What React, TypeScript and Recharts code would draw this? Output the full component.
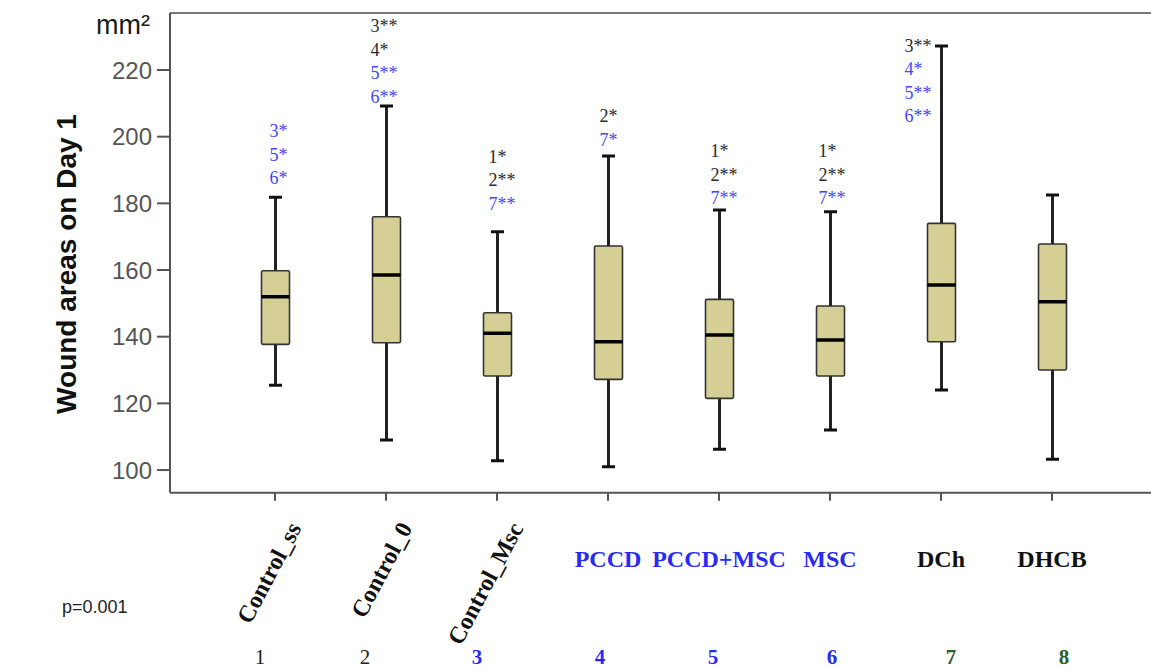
import { ComposedChart, Bar, XAxis, YAxis, ReferenceLine } from 'recharts';

// groups and box-plot summary values (mm²)
const groups = ['Control_ss', 'Control_0', 'Control_Msc', 'PCCD', 'PCCD+MSC', 'MSC', 'DCh', 'DHCB'];
const groupNo = ['1', '2', '3', '4', '5', '6', '7', '8'];
const mins = [125.4, 109.0, 102.8, 101.0, 106.2, 112.0, 124.0, 103.2];
const q1s = [137.7, 138.2, 128.2, 127.2, 121.5, 128.2, 138.5, 130.0];
const medians = [152.0, 158.5, 141.0, 138.5, 140.5, 139.0, 155.5, 150.5];
const q3s = [159.8, 176.0, 147.2, 167.2, 151.2, 149.2, 174.0, 167.8];
const maxs = [181.8, 209.2, 171.5, 194.2, 178.0, 177.5, 227.2, 182.5];

// significance notes above whiskers
const notes = [
  ['3*', '5*', '6*'],
  ['3**', '4*', '5**', '6**'],
  ['1*', '2**', '7**'],
  ['2*', '7*'],
  ['1*', '2**', '7**'],
  ['1*', '2**', '7**'],
  ['3**', '4*', '5**', '6**'],
  [],
];
const noteBlue = [
  [1, 1, 1],
  [0, 0, 1, 1],
  [0, 0, 1],
  [0, 1],
  [0, 0, 1],
  [0, 0, 1],
  [0, 1, 1, 1],
  [],
];
const noteTop = [201.6, 233.2, 194.0, 206.2, 195.7, 195.7, 227.3, 0];

const yTicks = [100, 120, 140, 160, 180, 200, 220];
const Y_DOMAIN: [number, number] = [93.2, 237.1];

// styling
const SERIF = "'Times New Roman', 'Liberation Serif', serif";
const SANS = "Arial, 'Liberation Sans', sans-serif";
const BLUE = '#2b2bf0';
const NOTE_BLUE = '#4545f2';
const GREEN = '#2f5e22';
const NOTE_DX = [-6, -16, -9, -9, -9, -12, -37, 0];
const NUM_DX = [-15, -21, -20, -8, -6, 2, 10, 12];
const NAME_COLOR = ['#111', '#111', '#111', BLUE, BLUE, BLUE, '#111', '#111'];
const NUM_COLOR = ['#222', '#222', BLUE, BLUE, BLUE, BLUE, GREEN, GREEN];

const data = groups.map((name, i) => ({
  name,
  no: groupNo[i],
  range: [mins[i], maxs[i]],
  min: mins[i],
  q1: q1s[i],
  median: medians[i],
  q3: q3s[i],
  max: maxs[i],
  notes: notes[i],
  blue: noteBlue[i],
  noteTop: noteTop[i],
  idx: i,
}));

const BoxShape = (props: any) => {
  const { x, y, width, height, payload } = props;
  const top = Math.min(y, y + height);
  const span = Math.abs(height);
  const toY = (v: number) => top + (span * (payload.max - v)) / (payload.max - payload.min);
  const cx = x + width / 2;
  const half = 14;
  const cap = 6.5;
  const i = payload.idx;
  return (
    <g>
      <line x1={cx} x2={cx} y1={toY(payload.max)} y2={toY(payload.min)} stroke="#222" strokeWidth={3} />
      <line x1={cx - cap} x2={cx + cap} y1={toY(payload.max)} y2={toY(payload.max)} stroke="#111" strokeWidth={3} />
      <line x1={cx - cap} x2={cx + cap} y1={toY(payload.min)} y2={toY(payload.min)} stroke="#111" strokeWidth={3} />
      <rect
        x={cx - half}
        y={toY(payload.q3)}
        width={half * 2}
        height={toY(payload.q1) - toY(payload.q3)}
        fill="#d5cf95"
        stroke="#333"
        strokeWidth={1.6}
        rx={1.5}
      />
      <line x1={cx - half} x2={cx + half} y1={toY(payload.median)} y2={toY(payload.median)} stroke="#000" strokeWidth={3.5} />
      {payload.notes.map((t: string, k: number) => (
        <text
          key={k}
          x={cx + NOTE_DX[i]}
          y={toY(payload.noteTop) + k * 23.5}
          dominantBaseline="central"
          fontFamily={SERIF}
          fontSize={18}
          fill={payload.blue[k] ? NOTE_BLUE : '#2a2a2a'}
        >
          {t}
        </text>
      ))}
    </g>
  );
};

const CatTick = (props: any) => {
  const { x, payload } = props;
  const i = groups.indexOf(payload.value);
  return (
    <g>
      {i < 3 ? (
        <text
          x={x + 27}
          y={528}
          textAnchor="end"
          transform={`rotate(-62, ${x + 27}, 528)`}
          fontFamily={SERIF}
          fontWeight="bold"
          fontSize={24}
          fill={NAME_COLOR[i]}
        >
          {payload.value}
        </text>
      ) : (
        <text x={x} y={567} textAnchor="middle" fontFamily={SERIF} fontWeight="bold" fontSize={24} fill={NAME_COLOR[i]}>
          {payload.value}
        </text>
      )}
      <text
        x={x + NUM_DX[i]}
        y={657}
        textAnchor="middle"
        dominantBaseline="central"
        fontFamily={SERIF}
        fontWeight={i < 2 ? 'normal' : 'bold'}
        fontSize={21}
        fill={NUM_COLOR[i]}
      >
        {groupNo[i]}
      </text>
    </g>
  );
};

const SideTexts = () => (
  <g>
    <text
      x={66}
      y={264}
      transform="rotate(-90, 66, 264)"
      textAnchor="middle"
      dominantBaseline="central"
      fontFamily={SANS}
      fontWeight="bold"
      fontSize={28}
      fill="#111"
    >
      Wound areas on Day 1
    </text>
    <text x={96} y={34} fontFamily={SANS} fontSize={27} fill="#1a1a1a">
      mm²
    </text>
    <text x={62} y={613} fontFamily={SANS} fontSize={18} fill="#222">
      p=0.001
    </text>
  </g>
);

export default function App() {
  return (
    <div style={{ position: 'absolute', left: 0, top: 0, width: 1151, height: 668, background: '#fff' }}>
      <ComposedChart width={1151} height={668} data={data} margin={{ top: 13, right: 0, bottom: 0, left: 0 }}>
        <XAxis
          dataKey="name"
          height={175.3}
          padding={{ left: 49.5, right: 43.5 }}
          axisLine={{ stroke: '#555', strokeWidth: 2 }}
          tickLine={{ stroke: '#555', strokeWidth: 2 }}
          tickSize={8}
          tick={<CatTick />}
          interval={0}
        />
        <YAxis
          width={170}
          domain={Y_DOMAIN}
          ticks={yTicks}
          allowDataOverflow
          axisLine={{ stroke: '#555', strokeWidth: 2 }}
          tickLine={{ stroke: '#555', strokeWidth: 2 }}
          tickSize={13}
          tickMargin={5}
          tick={{ fill: '#555', fontSize: 24, fontFamily: SANS }}
          label={{ content: () => <SideTexts /> }}
        />
        <ReferenceLine y={Y_DOMAIN[1]} stroke="#777" strokeWidth={2} />
        <Bar dataKey="range" barSize={28} shape={<BoxShape />} isAnimationActive={false} />
      </ComposedChart>
    </div>
  );
}
